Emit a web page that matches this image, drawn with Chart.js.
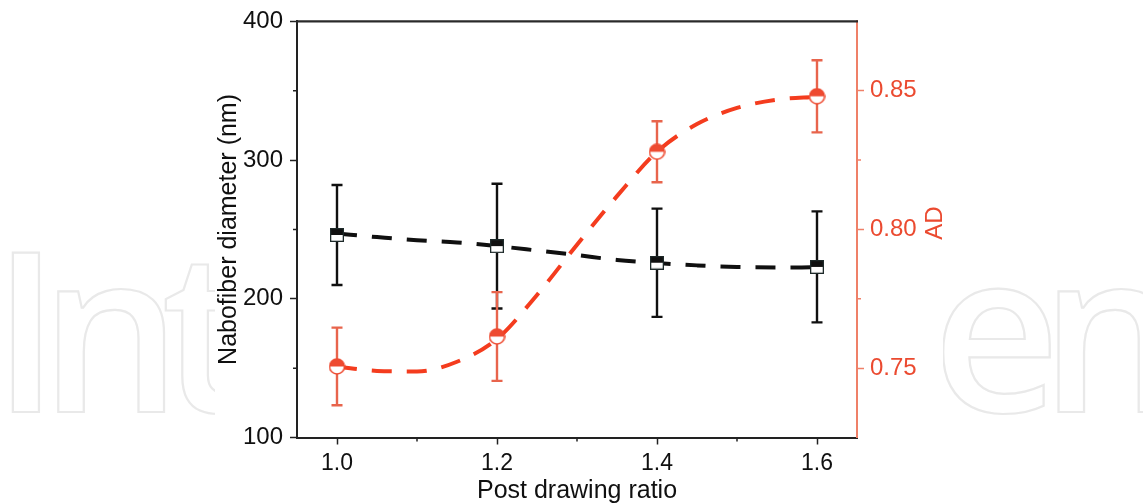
<!DOCTYPE html>
<html>
<head>
<meta charset="utf-8">
<title>Nanofiber diameter and AD vs post drawing ratio</title>
<script src="https://cdn.jsdelivr.net/npm/chart.js@4/dist/chart.umd.min.js"></script>
<style>
  html, body { margin: 0; padding: 0; background: #ffffff; overflow: hidden; }
  #wrap { width: 1143px; height: 503px; }
</style>
</head>
<body>
<div id="wrap"><canvas id="chart" width="1143" height="503"></canvas></div>
<script>
// Measured points (mean ± standard deviation)
const ratio = [1.0, 1.2, 1.4, 1.6];
const diameter = [246, 238, 226, 223];
const diameterSd = [36, 45, 39, 40];
const ad = [0.7506, 0.7614, 0.828, 0.848];
const adSd = [0.014, 0.016, 0.011, 0.013];

// Fitted trend curves
const fitRatio = [1.00, 1.05, 1.10, 1.15, 1.20, 1.25, 1.30, 1.35, 1.40, 1.45, 1.50, 1.55, 1.60];
const diameterFit = [247, 244.5, 242.2, 240.6, 238, 234.8, 231.5, 228, 225.8, 224.1, 222.9, 222.6, 222.7];
const adFit = [0.7506, 0.749, 0.7488, 0.7523, 0.7605, 0.7764, 0.7945, 0.812, 0.828, 0.838, 0.8438, 0.8468, 0.8478];

// Axis ticks
const xTicks = [1.0, 1.2, 1.4, 1.6];
const xMinorTicks = [1.1, 1.3, 1.5];
const yTicks = [100, 200, 300, 400];
const yMinorTicks = [150, 250, 350];
const y2Ticks = [0.75, 0.80, 0.85];
const y2MinorTicks = [0.775, 0.825];

const BLACK = '#101010';
const RED_LINE = '#f43c1e';
const RED_MARK = '#ee4a30';
const RED_ERR = '#e8644c';
const RED_TEXT = '#eb4a30';
const RED_AXIS = '#ef8068';
const FONT = '"Liberation Sans", Arial, Helvetica, sans-serif';

// Half-filled marker images
function halfSquare(size) {
  const c = document.createElement('canvas');
  c.width = size; c.height = size;
  const g = c.getContext('2d');
  g.fillStyle = '#ffffff';
  g.fillRect(0, 0, size, size);
  g.fillStyle = BLACK;
  g.fillRect(0, 0, size, size / 2);
  g.strokeStyle = '#1e2a2a';
  g.lineWidth = 1.3;
  g.strokeRect(0.65, 0.65, size - 1.3, size - 1.3);
  return c;
}
function halfCircle(size) {
  const c = document.createElement('canvas');
  c.width = size; c.height = size;
  const g = c.getContext('2d');
  const r = size / 2 - 1;
  g.beginPath(); g.arc(size / 2, size / 2, r, 0, Math.PI * 2);
  g.fillStyle = '#ffffff'; g.fill();
  g.beginPath(); g.arc(size / 2, size / 2, r, Math.PI, 0);
  g.closePath();
  g.fillStyle = RED_MARK; g.fill();
  g.beginPath(); g.arc(size / 2, size / 2, r, 0, Math.PI * 2);
  g.strokeStyle = RED_MARK; g.lineWidth = 1.5; g.stroke();
  return c;
}

// Background with the publisher watermark partly hidden behind the figure
const backdrop = {
  id: 'backdrop',
  beforeDraw(chart) {
    const ctx = chart.ctx;
    ctx.save();
    ctx.fillStyle = '#ffffff';
    ctx.fillRect(0, 0, chart.width, chart.height);
    let size = 224;
    ctx.font = '600 ' + size + 'px "Open Sans", sans-serif';
    const capH = ctx.measureText('I').actualBoundingBoxAscent;
    size = size * 160 / capH;
    ctx.font = '600 ' + size + 'px "Open Sans", sans-serif';
    ctx.textBaseline = 'alphabetic';
    ctx.textAlign = 'left';
    const mI = ctx.measureText('I');
    const x0 = 12 + mI.actualBoundingBoxLeft;
    const nLeft = x0 + mI.width - ctx.measureText('n').actualBoundingBoxLeft;
    const ls = 58 - nLeft;
    ctx.letterSpacing = ls + 'px';
    ctx.strokeStyle = '#e9e9e9';
    ctx.lineWidth = 2.2;
    ctx.strokeText('Intech', x0, 412);
    const eShift = ctx.measureText('e').actualBoundingBoxLeft;
    const xr = 943 + eShift - ctx.measureText('Op').width;
    ctx.strokeText('Open', xr, 412);
    ctx.fillStyle = '#ffffff';
    ctx.fillRect(215, 0, 943 - 215, chart.height);
    ctx.restore();
  }
};

// Error bars from the measured standard deviations
function drawErrors(ctx, xs, ys, sds, scaleX, scaleY, color) {
  ctx.strokeStyle = color;
  ctx.lineWidth = 2.4;
  ctx.lineCap = 'butt';
  for (let i = 0; i < xs.length; i++) {
    const px = scaleX.getPixelForValue(xs[i]);
    const top = scaleY.getPixelForValue(ys[i] + sds[i]);
    const bot = scaleY.getPixelForValue(ys[i] - sds[i]);
    ctx.beginPath();
    ctx.moveTo(px, top); ctx.lineTo(px, bot);
    ctx.moveTo(px - 5.5, top); ctx.lineTo(px + 5.5, top);
    ctx.moveTo(px - 5.5, bot); ctx.lineTo(px + 5.5, bot);
    ctx.stroke();
  }
}
const errorBars = {
  id: 'errorBars',
  beforeDatasetsDraw(chart) {
    const ctx = chart.ctx;
    const { x, y, y2 } = chart.scales;
    ctx.save();
    drawErrors(ctx, ratio, diameter, diameterSd, x, y, BLACK);
    drawErrors(ctx, ratio, ad, adSd, x, y2, RED_ERR);
    ctx.restore();
  }
};

// Minor ticks, top frame line and the right-hand axis title
const frame = {
  id: 'frame',
  afterDraw(chart) {
    const ctx = chart.ctx;
    const { x, y, y2 } = chart.scales;
    const a = chart.chartArea;
    ctx.save();
    ctx.lineWidth = 1.5;
    ctx.strokeStyle = '#222';
    ctx.beginPath();
    xMinorTicks.forEach(v => { const p = x.getPixelForValue(v); ctx.moveTo(p, a.bottom); ctx.lineTo(p, a.bottom + 4); });
    yMinorTicks.forEach(v => { const p = y.getPixelForValue(v); ctx.moveTo(a.left, p); ctx.lineTo(a.left - 4, p); });
    ctx.stroke();
    ctx.strokeStyle = RED_AXIS;
    ctx.beginPath();
    y2MinorTicks.forEach(v => { const p = y2.getPixelForValue(v); ctx.moveTo(a.right, p); ctx.lineTo(a.right + 4, p); });
    ctx.stroke();
    ctx.strokeStyle = '#2a2a2a';
    ctx.lineWidth = 2.2;
    ctx.beginPath();
    ctx.moveTo(a.left - 1, a.top); ctx.lineTo(a.right + 1, a.top);
    ctx.stroke();
    ctx.translate(935, 223);
    ctx.rotate(-Math.PI / 2);
    ctx.fillStyle = RED_TEXT;
    ctx.font = '24px ' + FONT;
    ctx.textAlign = 'center';
    ctx.textBaseline = 'middle';
    ctx.fillText('AD', 0, 0);
    ctx.restore();
  }
};

const toXY = (xs, ys) => xs.map((v, i) => ({ x: v, y: ys[i] }));

new Chart(document.getElementById('chart'), {
  type: 'line',
  data: {
    datasets: [
      {
        label: 'AD',
        data: toXY(ratio, ad),
        yAxisID: 'y2',
        showLine: false,
        pointStyle: halfCircle(17),
        pointRadius: 8
      },
      {
        label: 'Nabofiber diameter',
        data: toXY(ratio, diameter),
        yAxisID: 'y',
        showLine: false,
        pointStyle: halfSquare(14),
        pointRadius: 7
      },
      {
        label: 'AD fit',
        data: toXY(fitRatio, adFit),
        yAxisID: 'y2',
        borderColor: RED_LINE,
        borderWidth: 4,
        borderDash: [20, 15],
        cubicInterpolationMode: 'monotone',
        pointRadius: 0,
        fill: false
      },
      {
        label: 'Diameter fit',
        data: toXY(fitRatio, diameterFit),
        yAxisID: 'y',
        borderColor: BLACK,
        borderWidth: 4,
        borderDash: [20, 15],
        cubicInterpolationMode: 'monotone',
        pointRadius: 0,
        fill: false
      }
    ]
  },
  options: {
    responsive: false,
    animation: false,
    devicePixelRatio: 1,
    layout: { padding: { top: 20.5, left: 0, right: 0, bottom: 0 } },
    plugins: { legend: { display: false }, tooltip: { enabled: false } },
    scales: {
      x: {
        type: 'linear',
        min: 0.95,
        max: 1.65,
        afterBuildTicks: s => { s.ticks = xTicks.map(v => ({ value: v })); },
        afterFit: s => { s.height = 65.5; },
        ticks: {
          color: BLACK,
          font: { family: FONT, size: 23 },
          padding: 5,
          maxRotation: 0,
          callback: v => Number(v).toFixed(1)
        },
        grid: { display: true, drawOnChartArea: false, drawTicks: true, tickLength: 7, tickWidth: 1.5, tickColor: '#222' },
        border: { display: true, color: '#222', width: 2 },
        title: { display: true, text: 'Post drawing ratio', color: BLACK, font: { family: FONT, size: 25 }, padding: { top: 0, bottom: -3 } }
      },
      y: {
        position: 'left',
        min: 100,
        max: 400,
        afterBuildTicks: s => { s.ticks = yTicks.map(v => ({ value: v })); },
        afterFit: s => { s.width = 297; },
        ticks: {
          color: BLACK,
          font: { family: FONT, size: 24 },
          padding: 7,
          callback: v => String(v)
        },
        grid: { display: true, drawOnChartArea: false, drawTicks: true, tickLength: 7, tickWidth: 1.5, tickColor: '#222' },
        border: { display: true, color: '#222', width: 2 },
        title: { display: true, text: 'Nabofiber diameter (nm)', color: BLACK, font: { family: FONT, size: 25 }, padding: { top: 214, bottom: 0 } }
      },
      y2: {
        position: 'right',
        min: 0.725,
        max: 0.875,
        afterBuildTicks: s => { s.ticks = y2Ticks.map(v => ({ value: v })); },
        afterFit: s => { s.width = 286; },
        ticks: {
          color: RED_TEXT,
          font: { family: FONT, size: 24 },
          padding: 6,
          callback: v => Number(v).toFixed(2)
        },
        grid: { display: true, drawOnChartArea: false, drawTicks: true, tickLength: 7, tickWidth: 1.5, tickColor: RED_AXIS },
        border: { display: true, color: RED_AXIS, width: 2 }
      }
    }
  },
  plugins: [backdrop, errorBars, frame]
});
</script>
</body>
</html>
